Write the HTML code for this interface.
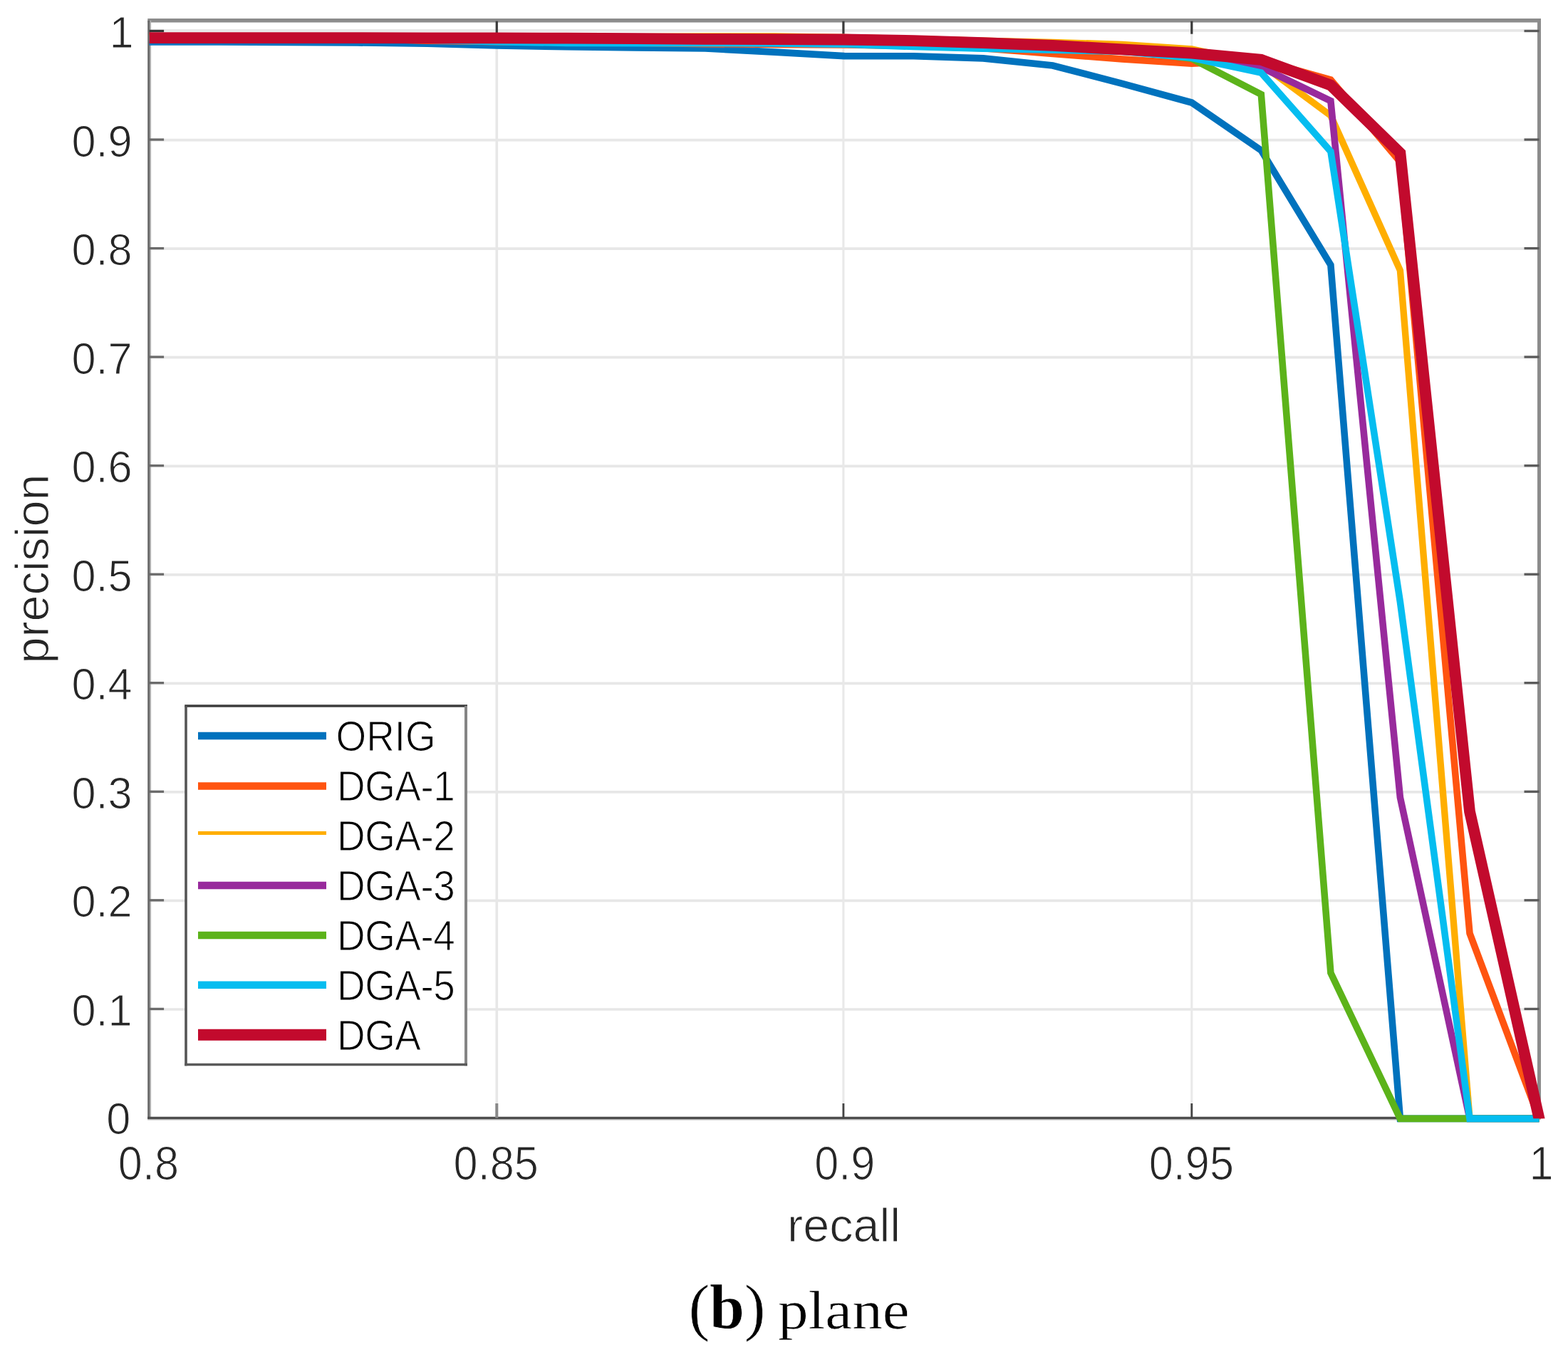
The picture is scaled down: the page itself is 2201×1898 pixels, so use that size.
<!DOCTYPE html>
<html lang="en"><head><meta charset="utf-8"><title>(b) plane</title>
<style>html,body{margin:0;padding:0;background:#fff;}svg{display:block;}text{font-family:"Liberation Sans",sans-serif;stroke:#fff;stroke-width:1.1px;}.cap{font-family:"Liberation Serif",serif;stroke-width:0.6px;}</style></head><body>
<svg width="2201" height="1898" viewBox="0 0 2201 1898" role="img" aria-label="Precision-recall curves, (b) plane">
<defs><clipPath id="cut"><rect x="0" y="0" width="2201" height="1570.2"/></clipPath>
</defs>
<rect width="2201" height="1898" fill="#fff"/>
<g>
<g stroke="#e7e7e7" stroke-width="3.7">
<line x1="209.6" y1="1417.0" x2="2160.5" y2="1417.0"/>
<line x1="209.6" y1="1264.4" x2="2160.5" y2="1264.4"/>
<line x1="209.6" y1="1111.9" x2="2160.5" y2="1111.9"/>
<line x1="209.6" y1="959.3" x2="2160.5" y2="959.3"/>
<line x1="209.6" y1="806.8" x2="2160.5" y2="806.8"/>
<line x1="209.6" y1="654.3" x2="2160.5" y2="654.3"/>
<line x1="209.6" y1="501.7" x2="2160.5" y2="501.7"/>
<line x1="209.6" y1="349.2" x2="2160.5" y2="349.2"/>
<line x1="209.6" y1="196.6" x2="2160.5" y2="196.6"/>
<line x1="209.6" y1="42.9" x2="2160.5" y2="42.9"/>
<line x1="697.3" y1="28.7" x2="697.3" y2="1569.5"/>
<line x1="1183.9" y1="28.7" x2="1183.9" y2="1569.5" stroke="#e9e9e9" stroke-width="3.1"/>
<line x1="1672.8" y1="28.7" x2="1672.8" y2="1569.5" stroke="#e9e9e9" stroke-width="3.1"/>
</g>
<line x1="207.29999999999998" y1="28.8" x2="2163.0" y2="28.8" stroke="#8c8c8c" stroke-width="5.4"/>
<line x1="2160.5" y1="28.7" x2="2160.5" y2="1571.5" stroke="#8c8c8c" stroke-width="5"/>
<line x1="211.2" y1="28.7" x2="211.2" y2="1569.5" stroke="#b4b4b4" stroke-width="1.8"/>
<line x1="208.79999999999998" y1="28.7" x2="208.79999999999998" y2="1571.1" stroke="#6a6a6a" stroke-width="3.2"/>
<line x1="207.2" y1="1571.7" x2="2160.5" y2="1571.7" stroke="#b4b4b4" stroke-width="1.8"/>
<line x1="207.2" y1="1569.3" x2="2160.5" y2="1569.3" stroke="#4c4c4c" stroke-width="3.2"/>
<line x1="209.6" y1="1416.4" x2="230.1" y2="1416.4" stroke="#6a6a6a" stroke-width="3.3"/>
<line x1="2139.5" y1="1416.4" x2="2160.5" y2="1416.4" stroke="#5a5a5a" stroke-width="3.3"/>
<line x1="209.6" y1="1263.8" x2="230.1" y2="1263.8" stroke="#6a6a6a" stroke-width="3.3"/>
<line x1="2139.5" y1="1263.8" x2="2160.5" y2="1263.8" stroke="#5a5a5a" stroke-width="3.3"/>
<line x1="209.6" y1="1111.3" x2="230.1" y2="1111.3" stroke="#6a6a6a" stroke-width="3.3"/>
<line x1="2139.5" y1="1111.3" x2="2160.5" y2="1111.3" stroke="#5a5a5a" stroke-width="3.3"/>
<line x1="209.6" y1="958.7" x2="230.1" y2="958.7" stroke="#6a6a6a" stroke-width="3.3"/>
<line x1="2139.5" y1="958.7" x2="2160.5" y2="958.7" stroke="#5a5a5a" stroke-width="3.3"/>
<line x1="209.6" y1="806.2" x2="230.1" y2="806.2" stroke="#6a6a6a" stroke-width="3.3"/>
<line x1="2139.5" y1="806.2" x2="2160.5" y2="806.2" stroke="#5a5a5a" stroke-width="3.3"/>
<line x1="209.6" y1="653.7" x2="230.1" y2="653.7" stroke="#6a6a6a" stroke-width="3.3"/>
<line x1="2139.5" y1="653.7" x2="2160.5" y2="653.7" stroke="#5a5a5a" stroke-width="3.3"/>
<line x1="209.6" y1="501.1" x2="230.1" y2="501.1" stroke="#6a6a6a" stroke-width="3.3"/>
<line x1="2139.5" y1="501.1" x2="2160.5" y2="501.1" stroke="#5a5a5a" stroke-width="3.3"/>
<line x1="209.6" y1="348.6" x2="230.1" y2="348.6" stroke="#6a6a6a" stroke-width="3.3"/>
<line x1="2139.5" y1="348.6" x2="2160.5" y2="348.6" stroke="#5a5a5a" stroke-width="3.3"/>
<line x1="209.6" y1="196.0" x2="230.1" y2="196.0" stroke="#6a6a6a" stroke-width="3.3"/>
<line x1="2139.5" y1="196.0" x2="2160.5" y2="196.0" stroke="#5a5a5a" stroke-width="3.3"/>
<line x1="209.6" y1="43.5" x2="230.1" y2="43.5" stroke="#333" stroke-width="3.3"/>
<line x1="2139.5" y1="43.5" x2="2160.5" y2="43.5" stroke="#5a5a5a" stroke-width="3.3"/>
<line x1="697.3" y1="29.7" x2="697.3" y2="47.7" stroke="#3a3a3a" stroke-width="3.2"/>
<line x1="697.3" y1="1549.0" x2="697.3" y2="1569.5" stroke="#888" stroke-width="4"/>
<line x1="1183.9" y1="29.7" x2="1183.9" y2="47.7" stroke="#3a3a3a" stroke-width="3.2"/>
<line x1="1183.9" y1="1549.0" x2="1183.9" y2="1569.5" stroke="#444" stroke-width="2.8"/>
<line x1="1672.8" y1="29.7" x2="1672.8" y2="47.7" stroke="#3a3a3a" stroke-width="3.2"/>
<line x1="1672.8" y1="1549.0" x2="1672.8" y2="1569.5" stroke="#444" stroke-width="2.8"/>
<g>
<polyline points="209.6,58.9 307.1,59.0 404.7,59.4 502.2,60.0 599.8,61.2 697.3,63.9 794.9,65.8 892.4,67.0 990.0,68.0 1087.5,73.1 1185.0,78.6 1282.6,78.7 1380.1,81.9 1477.7,92.0 1575.2,117.3 1672.8,144.0 1770.3,211.1 1867.9,372.1 1965.4,1570.4 2063.0,1570.4 2160.5,1570.4" fill="none" stroke="#0072BD" stroke-width="9.6" stroke-linejoin="miter" stroke-miterlimit="3" stroke-linecap="butt"/>
<polyline points="209.6,53.3 307.1,53.3 404.7,53.3 502.2,54.0 599.8,57.1 697.3,58.6 794.9,59.4 892.4,60.1 990.0,61.6 1087.5,62.4 1185.0,63.0 1282.6,64.7 1380.1,67.7 1477.7,75.4 1575.2,83.0 1672.8,89.1 1770.3,84.5 1867.9,112.0 1965.4,227.1 2063.0,1310.2 2165.0,1582.4" fill="none" stroke="#FF5410" stroke-width="9.6" stroke-linejoin="miter" stroke-miterlimit="3" stroke-linecap="butt" clip-path="url(#cut)"/>
<polyline points="209.6,52.5 307.1,52.5 404.7,52.5 502.2,52.5 599.8,52.5 697.3,52.5 794.9,52.5 892.4,51.7 990.0,51.0 1087.5,51.0 1185.0,52.5 1282.6,54.8 1380.1,57.1 1477.7,59.4 1575.2,62.4 1672.8,69.0 1770.3,89.9 1867.9,162.3 1965.4,379.7 2063.0,1570.4 2160.5,1570.4" fill="none" stroke="#FFAE00" stroke-width="9.4" stroke-linejoin="miter" stroke-miterlimit="3" stroke-linecap="butt"/>
<polyline points="209.6,53.3 307.1,53.3 404.7,53.3 502.2,54.0 599.8,56.3 697.3,57.1 794.9,57.8 892.4,58.6 990.0,59.4 1087.5,60.9 1185.0,61.6 1282.6,63.6 1380.1,65.2 1477.7,67.0 1575.2,70.8 1672.8,77.7 1770.3,94.4 1867.9,141.7 1965.4,1119.5 2063.0,1570.4 2160.5,1570.4" fill="none" stroke="#982A9C" stroke-width="9.6" stroke-linejoin="miter" stroke-miterlimit="3" stroke-linecap="butt"/>
<polyline points="209.6,51.7 307.1,51.7 404.7,51.7 502.2,51.7 599.8,51.7 697.3,52.5 794.9,53.3 892.4,53.3 990.0,54.0 1087.5,54.8 1185.0,56.3 1282.6,57.8 1380.1,60.9 1477.7,64.7 1575.2,70.0 1672.8,82.2 1770.3,132.6 1867.9,1365.7 1965.4,1570.4 2063.0,1570.4 2160.5,1570.4" fill="none" stroke="#5CB31A" stroke-width="9.6" stroke-linejoin="miter" stroke-miterlimit="3" stroke-linecap="butt"/>
<polyline points="209.6,54.0 307.1,54.0 404.7,54.0 502.2,54.8 599.8,56.3 697.3,58.6 794.9,60.4 892.4,60.6 990.0,60.6 1087.5,60.9 1185.0,62.1 1282.6,65.5 1380.1,68.2 1477.7,70.3 1575.2,72.3 1672.8,81.2 1770.3,102.1 1867.9,212.5 1965.4,844.9 2063.0,1570.4 2160.5,1570.4" fill="none" stroke="#05BDF0" stroke-width="9.6" stroke-linejoin="miter" stroke-miterlimit="3" stroke-linecap="butt"/>
<polyline points="209.6,53.1 307.1,53.1 404.7,53.1 502.2,53.1 599.8,53.3 697.3,53.4 794.9,53.7 892.4,54.2 990.0,54.8 1087.5,55.1 1185.0,55.5 1282.6,57.1 1380.1,60.1 1477.7,63.9 1575.2,69.3 1672.8,74.6 1770.3,83.8 1867.9,119.6 1965.4,214.9 2063.0,1139.3 2163.2,1582.4" fill="none" stroke="#C20A2D" stroke-width="15.8" stroke-linejoin="miter" stroke-miterlimit="3" stroke-linecap="butt" clip-path="url(#cut)"/>
</g>
<text transform="translate(183.3,1592.4) scale(1.0,1.03)" font-size="61.3" fill="#262626" text-anchor="end">0</text>
<text transform="translate(185.6,1439.9) scale(1.0,1.03)" font-size="61.3" fill="#262626" text-anchor="end">0.1</text>
<text transform="translate(185.6,1287.3) scale(1.0,1.03)" font-size="61.3" fill="#262626" text-anchor="end">0.2</text>
<text transform="translate(185.6,1134.8) scale(1.0,1.03)" font-size="61.3" fill="#262626" text-anchor="end">0.3</text>
<text transform="translate(185.6,982.2) scale(1.0,1.03)" font-size="61.3" fill="#262626" text-anchor="end">0.4</text>
<text transform="translate(185.6,829.7) scale(1.0,1.03)" font-size="61.3" fill="#262626" text-anchor="end">0.5</text>
<text transform="translate(185.6,677.2) scale(1.0,1.03)" font-size="61.3" fill="#262626" text-anchor="end">0.6</text>
<text transform="translate(185.6,524.6) scale(1.0,1.03)" font-size="61.3" fill="#262626" text-anchor="end">0.7</text>
<text transform="translate(185.6,372.1) scale(1.0,1.03)" font-size="61.3" fill="#262626" text-anchor="end">0.8</text>
<text transform="translate(185.6,219.5) scale(1.0,1.03)" font-size="61.3" fill="#262626" text-anchor="end">0.9</text>
<text transform="translate(187.6,67.0) scale(1.0,1.03)" font-size="61.3" fill="#262626" text-anchor="end">1</text>
<text transform="translate(208.4,1656.4) scale(1.0,1.075)" font-size="61.3" fill="#262626" text-anchor="middle">0.8</text>
<text transform="translate(696.2,1656.4) scale(1.0,1.075)" font-size="61.3" fill="#262626" text-anchor="middle">0.85</text>
<text transform="translate(1185.8,1656.4) scale(1.0,1.075)" font-size="61.3" fill="#262626" text-anchor="middle">0.9</text>
<text transform="translate(1672.4,1656.4) scale(1.0,1.075)" font-size="61.3" fill="#262626" text-anchor="middle">0.95</text>
<text transform="translate(2163.5,1656.4) scale(1.0,1.075)" font-size="61.3" fill="#262626" text-anchor="middle">1</text>
<text transform="translate(1184.5,1742.7)" font-size="66.5" fill="#262626" text-anchor="middle">recall</text>
<text transform="translate(68.2,798.5) rotate(-90)" font-size="66.5" fill="#262626" text-anchor="middle">precision</text>
<rect x="261" y="991" width="393" height="503.5" fill="#fff"/>
<line x1="259.2" y1="991" x2="656" y2="991" stroke="#3c3c3c" stroke-width="3.4"/>
<line x1="261" y1="991" x2="261" y2="1496.3" stroke="#555" stroke-width="3.6"/>
<line x1="654" y1="991" x2="654" y2="1496.3" stroke="#858585" stroke-width="4"/>
<line x1="259.2" y1="1494.5" x2="656" y2="1494.5" stroke="#5a5a5a" stroke-width="3.6"/>
<line x1="278" y1="1032.9" x2="458" y2="1032.9" stroke="#0072BD" stroke-width="10.5"/>
<line x1="278" y1="1103.6" x2="458" y2="1103.6" stroke="#FF5410" stroke-width="10.5"/>
<line x1="278" y1="1169.6" x2="458" y2="1169.6" stroke="#FFAE00" stroke-width="5"/>
<line x1="278" y1="1243" x2="458" y2="1243" stroke="#982A9C" stroke-width="10.5"/>
<line x1="278" y1="1313.1" x2="458" y2="1313.1" stroke="#5CB31A" stroke-width="10.5"/>
<line x1="278" y1="1382.7" x2="458" y2="1382.7" stroke="#05BDF0" stroke-width="10.5"/>
<line x1="278" y1="1452.8" x2="458" y2="1452.8" stroke="#C20A2D" stroke-width="16"/>
<text transform="translate(471.5,1054.2) scale(1.0,1.075)" font-size="54.9" fill="#000" text-anchor="start">ORIG</text>
<text transform="translate(473.0,1124.2) scale(1.0,1.075)" font-size="54.9" fill="#000" text-anchor="start" letter-spacing="-0.5">DGA-1</text>
<text transform="translate(473.0,1194.2) scale(1.0,1.075)" font-size="54.9" fill="#000" text-anchor="start" letter-spacing="-0.5">DGA-2</text>
<text transform="translate(473.0,1264.2) scale(1.0,1.075)" font-size="54.9" fill="#000" text-anchor="start" letter-spacing="-0.5">DGA-3</text>
<text transform="translate(473.0,1334.2) scale(1.0,1.075)" font-size="54.9" fill="#000" text-anchor="start" letter-spacing="-0.5">DGA-4</text>
<text transform="translate(473.0,1404.2) scale(1.0,1.075)" font-size="54.9" fill="#000" text-anchor="start" letter-spacing="-0.5">DGA-5</text>
<text transform="translate(473.0,1474.2) scale(1.0,1.075)" font-size="54.9" fill="#000" text-anchor="start" letter-spacing="-0.5">DGA</text>
<text class="cap" x="966.7" y="1865.3" font-size="76" fill="#000"><tspan font-size="88">(<tspan font-weight="bold">b</tspan>)</tspan> <tspan x="1092" textLength="184.6" lengthAdjust="spacingAndGlyphs">plane</tspan></text>
</g>
</svg></body></html>
